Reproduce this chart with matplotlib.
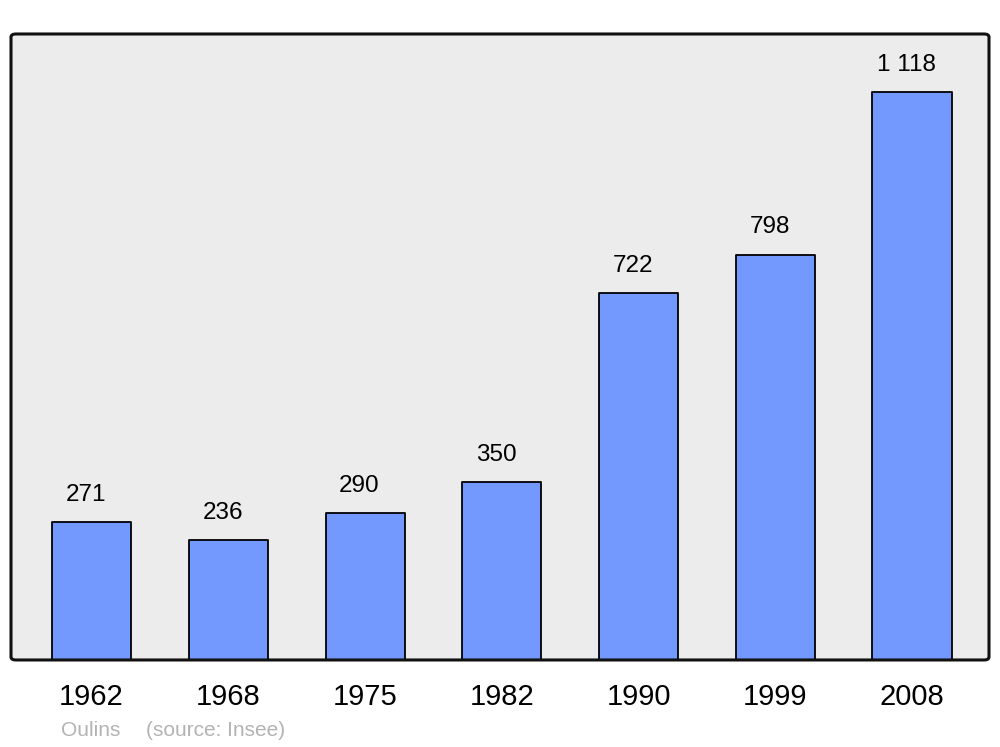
import matplotlib
matplotlib.use("Agg")
import matplotlib.pyplot as plt
from matplotlib.patches import FancyBboxPatch

plt.rcParams['font.family'] = ['Liberation Sans', 'DejaVu Sans']

years = ["1962", "1968", "1975", "1982", "1990", "1999", "2008"]
population = [271, 236, 290, 350, 722, 798, 1118]
value_labels = ["271", "236", "290", "350", "722", "798", "1 118"]

fig = plt.figure(figsize=(10, 7.47), dpi=100)
ax = fig.add_axes([0.011, 0.1165, 0.978, 0.838])
ax.set_facecolor('#ececec')
for s in ax.spines.values():
    s.set_visible(False)

x = range(len(years))
ax.bar(x, population, width=0.578, color='#7399ff', edgecolor='black',
       linewidth=1.3, joinstyle='round', zorder=2)

for xi, v, lab in zip(x, population, value_labels):
    ax.annotate(lab, (xi, v), xytext=(-4, 19.5), textcoords='offset points',
                ha='center', va='center', fontsize=17.5)

ax.set_xlim(-0.589, 6.563)
ax.set_ylim(0, 1232)
ax.set_xticks(list(x))
ax.set_xticklabels(years, fontsize=21)
ax.tick_params(axis='x', length=0, pad=16.5)
ax.set_yticks([])

# rounded frame around the plot area
frame = FancyBboxPatch((0, 0), 1, 1, boxstyle='round,pad=0,rounding_size=0.005',
                       transform=ax.transAxes, facecolor='none', edgecolor='#111111',
                       linewidth=2.2, clip_on=False, zorder=5)
ax.add_patch(frame)

fig.text(0.061, 0.0225, "Oulins", color='#b3b3b3', fontsize=15,
         ha='left', va='center')
fig.text(0.146, 0.0225, "(source: Insee)", color='#b3b3b3', fontsize=15,
         ha='left', va='center')

fig.savefig("out.png", dpi=100)
